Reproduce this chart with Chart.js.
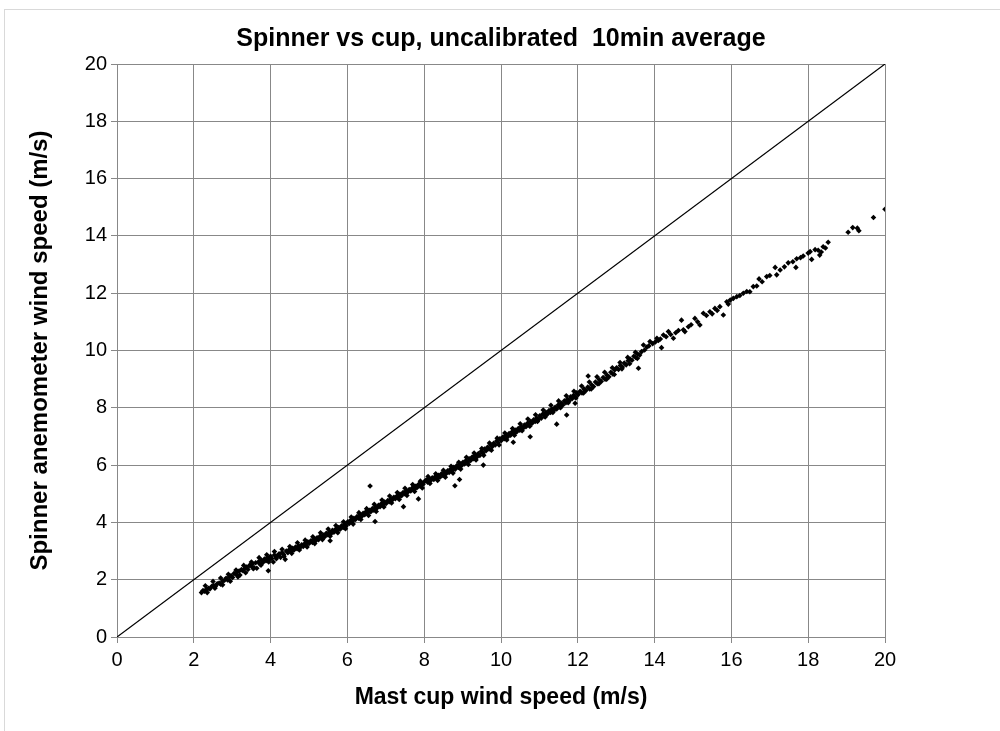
<!DOCTYPE html>
<html>
<head>
<meta charset="utf-8">
<script src="https://cdn.jsdelivr.net/npm/chart.js@4/dist/chart.umd.min.js"></script>
<style>
  body { margin: 0; background: #fff; overflow: hidden; }
  #frame { position: absolute; left: 4px; top: 9px; width: 1100px; height: 800px; border: 1px solid #d9d9d9; }
  #wrap { position: absolute; left: 0; top: 0; width: 1000px; height: 731px; }
</style>
</head>
<body>
<div id="frame"></div>
<div id="wrap"><canvas id="grafico" width="1000" height="731"></canvas></div>
<script>
// mast cup wind speed (m/s)
let cupSpeed = [
  2.20, 2.24, 2.28, 2.33, 2.38, 2.42, 2.47, 2.52, 2.56, 2.61, 2.66, 2.70, 2.75, 2.80, 2.84, 2.88, 2.93, 2.97, 3.01, 3.05,
  3.10, 3.14, 3.18, 3.20, 3.24, 3.28, 3.33, 3.37, 3.41, 3.45, 3.50, 3.53, 3.57, 3.61, 3.64, 3.68, 3.72, 3.76, 3.80, 3.84,
  3.88, 3.92, 3.94, 3.96, 4.00, 4.03, 4.07, 4.10, 4.14,
  4.18, 4.22, 4.26, 4.30, 4.34, 4.38, 4.41, 4.45, 4.49, 4.53, 4.57, 4.61, 4.65, 4.69, 4.73, 4.77, 4.81, 4.85, 4.89, 4.93,
  4.97, 5.01, 5.05, 5.09, 5.13, 5.17, 5.21, 5.25, 5.29, 5.33, 5.37, 5.41, 5.45, 5.49, 5.55, 5.53, 5.57, 5.61, 5.65, 5.69,
  5.73, 5.77, 5.81, 5.85, 5.89, 5.93, 5.97, 6.01, 6.05,
  6.09, 6.13, 6.17, 6.21, 6.25, 6.29, 6.33, 6.37, 6.41, 6.45, 6.49, 6.53, 6.57, 6.59, 6.61, 6.65, 6.69, 6.72, 6.73, 6.77,
  6.81, 6.85, 6.89, 6.93, 6.97, 7.01, 7.05, 7.09, 7.13, 7.17, 7.21, 7.25, 7.29, 7.33, 7.37, 7.41, 7.46, 7.45, 7.49, 7.53,
  7.57, 7.61, 7.65, 7.69, 7.73, 7.77, 7.81, 7.85, 7.85, 7.89, 7.93, 7.97, 8.01,
  8.05, 8.09, 8.13, 8.17, 8.21, 8.25, 8.29, 8.33, 8.37, 8.41, 8.45, 8.49, 8.53, 8.57, 8.61, 8.65, 8.69, 8.73, 8.77, 8.80,
  8.81, 8.85, 8.89, 8.92, 8.93, 8.97, 9.01, 9.05, 9.09, 9.13, 9.17, 9.21, 9.25, 9.29, 9.33, 9.37, 9.41, 9.45, 9.49, 9.54,
  9.53, 9.57, 9.61, 9.65, 9.69, 9.73, 9.77, 9.81, 9.85, 9.89, 9.93, 9.97, 10.01,
  10.05, 10.09, 10.13, 10.17, 10.21, 10.25, 10.29, 10.32, 10.33, 10.37, 10.41, 10.45, 10.49, 10.53, 10.57, 10.61, 10.65, 10.69, 10.73, 10.76,
  10.77, 10.81, 10.85, 10.89, 10.93, 10.97, 11.01, 11.05, 11.09, 11.13, 11.17, 11.21, 11.25, 11.29, 11.33, 11.37, 11.41, 11.45, 11.45, 11.49,
  11.53, 11.57, 11.61, 11.65, 11.69, 11.71, 11.73, 11.77, 11.81, 11.85, 11.89, 11.93, 11.93, 11.97, 12.01,
  12.06, 12.11, 12.16, 12.21, 12.27, 12.26, 12.31, 12.36, 12.41, 12.46, 12.51, 12.56, 12.61, 12.66, 12.71, 12.76, 12.81, 12.86, 12.91, 12.96,
  13.01, 13.06, 13.11, 13.16, 13.21, 13.26, 13.31, 13.36, 13.41, 13.46, 13.51, 13.58, 13.56, 13.61, 13.66, 13.71, 13.74, 13.80, 13.88, 13.85,
  13.95, 14.06, 14.02, 14.10, 14.18, 14.15,
  14.23, 14.30, 14.36, 14.42, 14.49, 14.55, 14.62, 14.70, 14.75, 14.79, 14.88, 14.95, 15.05, 15.12, 15.18, 15.27, 15.35, 15.44, 15.50, 15.57,
  15.63, 15.70, 15.79, 15.88, 15.92, 15.97, 16.05, 16.14, 16.22, 16.31, 16.40, 16.48, 16.57, 16.66, 16.72, 16.80, 16.92, 17.00, 17.14, 17.18,
  17.27, 17.38, 17.48, 17.60, 17.68, 17.70, 17.80, 17.87, 18.00, 18.05, 18.09, 18.18, 18.26, 18.30, 18.34, 18.39, 18.45, 18.52, 19.04, 19.16,
  19.28, 19.32, 19.70, 20.00
];

// spinner anemometer wind speed (m/s), same order
let spinnerSpeed = [
  1.55, 1.62, 1.60, 1.66, 1.70, 1.68, 1.77, 1.80, 1.76, 1.86, 1.88, 1.84, 1.95, 1.98, 2.05, 1.99, 2.10, 2.14, 2.08, 2.22,
  2.19, 2.28, 2.30, 2.16, 2.35, 2.31, 2.40, 2.44, 2.36, 2.50, 2.47, 2.56, 2.42, 2.59, 2.40, 2.62, 2.55, 2.68, 2.60, 2.72,
  2.66, 2.78, 2.31, 2.70, 2.82, 2.74, 2.62, 2.86, 2.79,
  2.84, 2.90, 2.78, 2.95, 2.88, 2.71, 3.00, 2.94, 3.05, 2.98, 3.10, 3.04, 3.14, 3.08, 3.18, 3.12, 3.22, 3.16, 3.26, 3.20,
  3.32, 3.27, 3.36, 3.30, 3.42, 3.35, 3.46, 3.40, 3.52, 3.47, 3.56, 3.50, 3.62, 3.57, 3.36, 3.66, 3.60, 3.72, 3.66, 3.76,
  3.70, 3.82, 3.76, 3.88, 3.82, 3.94, 3.88, 4.02, 3.96,
  4.08, 4.04, 4.14, 4.10, 4.20, 4.15, 4.26, 4.21, 4.32, 4.27, 4.38, 4.33, 4.42, 5.27, 4.37, 4.48, 4.43, 4.03, 4.54, 4.50,
  4.60, 4.55, 4.66, 4.61, 4.71, 4.66, 4.76, 4.72, 4.82, 4.78, 4.88, 4.83, 4.92, 4.88, 4.98, 4.93, 4.55, 5.04, 5.00, 5.10,
  5.05, 5.15, 5.10, 5.20, 5.16, 5.26, 5.21, 4.82, 5.32, 5.27, 5.38, 5.33, 5.43,
  5.48, 5.40, 5.52, 5.46, 5.56, 5.50, 5.60, 5.54, 5.64, 5.58, 5.70, 5.64, 5.76, 5.70, 5.80, 5.74, 5.86, 5.80, 5.92, 5.28,
  5.86, 5.98, 5.92, 5.50, 6.04, 5.98, 6.10, 6.04, 6.16, 6.10, 6.22, 6.16, 6.28, 6.22, 6.34, 6.28, 6.40, 6.34, 6.48, 6.00,
  6.42, 6.56, 6.50, 6.62, 6.56, 6.70, 6.64, 6.76, 6.70, 6.84, 6.78, 6.92, 6.86,
  6.98, 6.92, 7.04, 6.98, 7.10, 7.04, 7.16, 6.80, 7.10, 7.22, 7.16, 7.28, 7.22, 7.34, 7.28, 7.40, 7.34, 7.46, 7.40, 6.99,
  7.52, 7.46, 7.58, 7.52, 7.64, 7.58, 7.72, 7.64, 7.78, 7.72, 7.84, 7.78, 7.90, 7.84, 7.96, 7.90, 8.02, 7.43, 7.96, 8.10,
  8.04, 8.16, 8.10, 8.24, 8.18, 7.75, 8.30, 8.24, 8.38, 8.32, 8.44, 8.16, 8.38, 8.52, 8.46,
  8.58, 8.52, 8.66, 8.60, 9.11, 8.72, 8.66, 8.80, 8.74, 8.90, 8.84, 8.98, 8.92, 9.06, 9.00, 9.14, 9.08, 9.24, 9.18, 9.32,
  9.40, 9.34, 9.48, 9.42, 9.56, 9.50, 9.64, 9.70, 9.66, 9.80, 9.76, 9.38, 9.88, 9.84, 9.96, 10.19, 10.02, 10.12, 10.31, 10.16,
  10.24, 10.43, 10.30, 10.35, 10.10, 10.40,
  10.54, 10.48, 10.66, 10.56, 10.43, 10.62, 10.70, 11.06, 10.72, 10.66, 10.83, 10.90, 11.12, 11.00, 10.89, 11.30, 11.22, 11.35, 11.28, 11.47,
  11.40, 11.53, 11.24, 11.70, 11.62, 11.76, 11.82, 11.88, 11.92, 12.00, 12.06, 12.05, 12.23, 12.25, 12.50, 12.40, 12.58, 12.62, 12.90, 12.64,
  12.81, 12.92, 13.06, 13.10, 12.90, 13.20, 13.24, 13.30, 13.40, 13.45, 13.18, 13.52, 13.50, 13.33, 13.44, 13.62, 13.58, 13.78, 14.13, 14.29,
  14.27, 14.18, 14.64, 14.93
];

// upper / lower fringe of the dense cloud (cup m/s, spinner m/s)
let fringeCup = [
  2.30, 2.35, 2.50, 2.55, 2.70, 2.75, 2.90, 2.95, 3.10, 3.15, 3.30, 3.35, 3.50, 3.55, 3.70, 3.75, 3.90, 3.95, 4.10, 4.15,
  4.30, 4.35, 4.50, 4.55, 4.70, 4.75, 4.90, 4.95, 5.10, 5.15, 5.30, 5.35, 5.50, 5.55, 5.70, 5.75, 5.90, 5.95, 6.10, 6.15,
  6.30, 6.35, 6.50, 6.55, 6.70, 6.75, 6.90, 6.95, 7.10, 7.15, 7.30, 7.35, 7.50, 7.55, 7.70, 7.75, 7.90, 7.95, 8.10, 8.15,
  8.30, 8.35, 8.50, 8.55, 8.70, 8.75, 8.90, 8.95, 9.10, 9.15, 9.30, 9.35, 9.50, 9.55, 9.70, 9.75, 9.90, 9.95, 10.10, 10.15,
  10.30, 10.35, 10.50, 10.55, 10.70, 10.75, 10.90, 10.95, 11.10, 11.15, 11.30, 11.35, 11.50, 11.55, 11.70, 11.75, 11.90, 11.95, 12.10, 12.15,
  12.30, 12.35, 12.50, 12.55, 12.70, 12.75, 12.90, 12.95, 13.10, 13.15, 13.30, 13.35, 13.50, 13.55
];
let fringeSpinner = [
  1.79, 1.55, 1.94, 1.70, 2.06, 1.82, 2.19, 1.95, 2.34, 2.10, 2.50, 2.24, 2.62, 2.38, 2.77, 2.51, 2.87, 2.62, 2.98, 2.73,
  3.06, 2.82, 3.16, 2.92, 3.29, 3.04, 3.38, 3.14, 3.50, 3.26, 3.64, 3.40, 3.77, 3.52, 3.89, 3.64, 4.02, 3.78, 4.19, 3.94,
  4.34, 4.10, 4.48, 4.24, 4.63, 4.38, 4.78, 4.54, 4.92, 4.68, 5.04, 4.80, 5.19, 4.94, 5.32, 5.08, 5.44, 5.20, 5.60, 5.36,
  5.70, 5.46, 5.82, 5.58, 5.96, 5.72, 6.10, 5.86, 6.27, 6.02, 6.42, 6.18, 6.58, 6.34, 6.77, 6.52, 6.94, 6.70, 7.12, 6.88,
  7.28, 7.04, 7.44, 7.20, 7.61, 7.36, 7.76, 7.52, 7.92, 7.68, 8.09, 7.84, 8.24, 8.00, 8.42, 8.18, 8.58, 8.34, 8.76, 8.52,
  8.90, 8.66, 9.08, 8.84, 9.24, 9.00, 9.40, 9.16, 9.58, 9.36, 9.76, 9.54, 9.94, 9.72
];

// 1:1 reference line
let lineX = [0, 20];
let lineY = [0, 20];

let axisTicks = [0, 2, 4, 6, 8, 10, 12, 14, 16, 18, 20];

let pontos = cupSpeed.map((x, i) => ({ x: x, y: spinnerSpeed[i] }))
    .concat(fringeCup.map((x, i) => ({ x: x, y: fringeSpinner[i] })));
let diagonal = lineX.map((x, i) => ({ x: x, y: lineY[i] }));

let fonte = 'Liberation Sans, Arial, sans-serif';
let cinza = '#888888';

let ctx = document.getElementById('grafico').getContext('2d');

let chart = new Chart(ctx, {
    type: 'scatter',
    data: {
        datasets: [{
                label: 'Spinner vs cup',
                data: pontos,
                pointStyle: 'rectRot',
                pointRadius: 2.8,
                backgroundColor: '#000000',
                borderColor: '#000000',
                borderWidth: 0
            },
            {
                label: '1:1',
                data: diagonal,
                showLine: true,
                pointRadius: 0,
                borderColor: '#000000',
                borderWidth: 1.2,
                backgroundColor: 'rgba(0, 0, 0, 0)'
            }
        ]
    },
    options: {
        responsive: false,
        animation: false,
        layout: { padding: { left: 0, right: 115, top: 0, bottom: 0 } },
        plugins: {
            legend: { display: false },
            tooltip: { enabled: false },
            title: {
                display: true,
                fullSize: false,
                text: 'Spinner vs cup, uncalibrated  10min average',
                color: '#000000',
                font: { family: fonte, size: 25, weight: 'bold', lineHeight: 1.2 },
                padding: { top: 24, bottom: 10 }
            }
        },
        scales: {
            x: {
                type: 'linear',
                min: 0,
                max: 20,
                afterBuildTicks: (axis) => { axis.ticks = axisTicks.map(v => ({ value: v })); },
                afterFit: (axis) => { axis.height = 94; },
                ticks: { color: '#000000', font: { family: fonte, size: 20 }, padding: 5, maxRotation: 0 },
                grid: { color: cinza, lineWidth: 1, tickLength: 6, tickColor: cinza },
                border: { color: cinza },
                title: {
                    display: true,
                    text: 'Mast cup wind speed (m/s)',
                    color: '#000000',
                    font: { family: fonte, size: 23, weight: 'bold', lineHeight: 1.2 },
                    padding: { top: 0, bottom: 20 }
                }
            },
            y: {
                type: 'linear',
                min: 0,
                max: 20,
                afterBuildTicks: (axis) => { axis.ticks = axisTicks.map(v => ({ value: v })); },
                afterFit: (axis) => { axis.width = 117; },
                ticks: { color: '#000000', font: { family: fonte, size: 20 }, padding: 4 },
                grid: { color: cinza, lineWidth: 1, tickLength: 6, tickColor: cinza },
                border: { color: cinza },
                title: {
                    display: true,
                    text: 'Spinner anemometer wind speed (m/s)',
                    color: '#000000',
                    font: { family: fonte, size: 24, weight: 'bold', lineHeight: 1.2 },
                    padding: { top: 26, bottom: 0 }
                }
            }
        }
    }
});
</script>
</body>
</html>
